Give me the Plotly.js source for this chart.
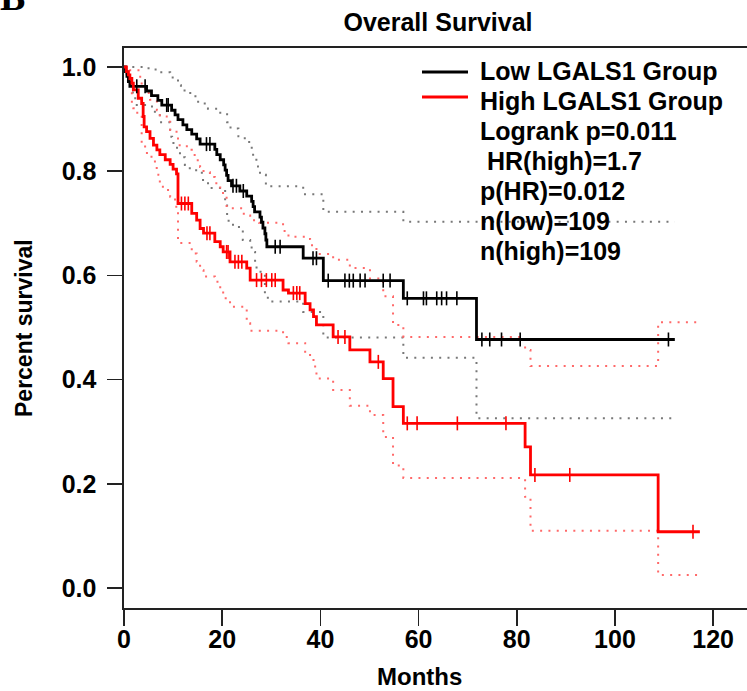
<!DOCTYPE html>
<html>
<head>
<meta charset="utf-8">
<script src="https://cdn.plot.ly/plotly-3.0.1.min.js"></script>
<style>html,body{margin:0;padding:0;background:#fff;}#chart{width:747px;height:691px;}</style>
</head>
<body>
<div id="chart"></div>
<script>
// ---- Low LGALS1 group: Kaplan-Meier steps (months, survival) ----
const lowTimes = [0, 0.3, 0.6, 0.9, 1.2, 4.6, 5.6, 6.9, 7.7, 9.7, 10.4, 11.0, 12.0, 12.8, 13.8, 14.8, 15.5, 18.5, 18.9, 19.6, 20.3, 20.6, 20.9, 21.2, 21.9, 23.6, 25.0, 26.0, 26.3, 26.6, 27.7, 28.0, 28.3, 28.7, 28.9, 29.1, 36.5, 40.6, 56.9, 71.8];
const lowSurv = [1.0, 0.991, 0.982, 0.972, 0.963, 0.954, 0.945, 0.936, 0.927, 0.917, 0.908, 0.899, 0.889, 0.880, 0.871, 0.862, 0.852, 0.842, 0.832, 0.822, 0.812, 0.802, 0.792, 0.782, 0.772, 0.762, 0.752, 0.742, 0.732, 0.722, 0.712, 0.702, 0.691, 0.680, 0.668, 0.655, 0.633, 0.590, 0.556, 0.477];
const lowEnd = 112.2;
const lowCensor = [2.6, 4.3, 8.7, 9.0, 16.8, 17.5, 22.2, 22.9, 24.3, 30.8, 31.8, 38.5, 39.2, 41.6, 45.0, 45.9, 46.7, 48.1, 49.1, 52.8, 54.2, 57.7, 61.0, 61.6, 63.7, 64.7, 65.7, 67.8, 72.9, 74.5, 76.9, 80.7, 110.9];
const lowUpperTimes = [0, 5.0, 7.3, 9.4, 11.0, 11.6, 12.8, 13.8, 15.1, 17.1, 19.1, 21.0, 21.7, 23.3, 24.6, 25.8, 26.3, 27.3, 27.7, 28.9, 36.5, 40.6, 56.9];
const lowUpperSurv = [1.0, 0.995, 0.99, 0.98, 0.965, 0.955, 0.95, 0.944, 0.93, 0.92, 0.912, 0.894, 0.882, 0.867, 0.856, 0.845, 0.822, 0.809, 0.793, 0.771, 0.756, 0.722, 0.703];
const lowLowerTimes = [0, 0.8, 1.8, 2.6, 5.7, 7.3, 9.4, 9.8, 10.8, 11.4, 12.4, 13.4, 15.5, 16.1, 17.5, 20.6, 21.0, 22.2, 24.2, 25.7, 26.0, 26.7, 27.0, 28.7, 29.3, 36.5, 40.6, 56.9, 71.8];
const lowLowerSurv = [1.0, 0.969, 0.94, 0.927, 0.914, 0.894, 0.866, 0.854, 0.841, 0.827, 0.812, 0.802, 0.797, 0.777, 0.768, 0.74, 0.705, 0.693, 0.668, 0.66, 0.645, 0.624, 0.607, 0.562, 0.55, 0.53, 0.481, 0.442, 0.326];

// ---- High LGALS1 group ----
const highTimes = [0, 0.5, 0.9, 1.2, 1.6, 1.9, 2.9, 3.6, 3.9, 4.1, 4.6, 5.3, 6.0, 6.7, 7.3, 8.4, 9.4, 10.0, 10.7, 11.0, 13.8, 14.8, 15.5, 16.2, 18.5, 19.6, 20.2, 21.6, 25.0, 25.7, 32.4, 33.5, 36.9, 37.9, 38.6, 39.2, 42.6, 46.0, 50.1, 52.8, 54.8, 56.9, 81.7, 82.8, 108.8];
const highSurv = [1.0, 0.991, 0.985, 0.978, 0.969, 0.956, 0.94, 0.93, 0.905, 0.885, 0.876, 0.863, 0.85, 0.841, 0.832, 0.822, 0.813, 0.804, 0.795, 0.738, 0.719, 0.706, 0.69, 0.681, 0.665, 0.655, 0.645, 0.626, 0.614, 0.591, 0.572, 0.566, 0.546, 0.534, 0.521, 0.505, 0.482, 0.457, 0.434, 0.402, 0.348, 0.316, 0.271, 0.217, 0.108];
const highEnd = 117.3;
const highCensor = [11.7, 12.4, 13.1, 16.9, 17.5, 20.9, 21.2, 22.6, 23.3, 24.0, 27.0, 28.0, 29.0, 30.1, 30.8, 34.5, 35.2, 35.8, 43.6, 45.0, 51.8, 57.7, 59.7, 67.9, 77.8, 83.7, 90.8, 115.9];
const highUpperTimes = [0, 1.2, 3.3, 3.6, 4.3, 5.3, 6.7, 7.3, 8.7, 9.4, 10.7, 11.0, 12.8, 13.8, 14.8, 15.5, 16.2, 17.5, 18.5, 19.6, 20.9, 24.4, 25.7, 27.5, 32.4, 33.5, 36.9, 37.9, 39.2, 42.6, 46.0, 50.1, 52.8, 54.8, 56.9, 81.7, 82.8, 108.8];
const highUpperSurv = [1.0, 0.994, 0.978, 0.965, 0.95, 0.937, 0.917, 0.905, 0.895, 0.879, 0.869, 0.85, 0.841, 0.831, 0.821, 0.808, 0.798, 0.789, 0.777, 0.758, 0.729, 0.715, 0.706, 0.701, 0.685, 0.674, 0.67, 0.658, 0.641, 0.63, 0.614, 0.594, 0.56, 0.505, 0.482, 0.457, 0.426, 0.51];
const highLowerTimes = [0, 0.5, 1.6, 1.9, 2.2, 3.6, 4.3, 5.6, 6.3, 7.0, 7.3, 8.7, 9.4, 10.4, 11.0, 13.8, 14.8, 15.5, 16.2, 18.5, 19.6, 20.2, 21.6, 25.0, 25.7, 32.4, 33.5, 36.9, 37.9, 38.6, 39.2, 42.6, 46.0, 50.1, 52.8, 54.8, 56.9, 81.7, 82.8, 108.8];
const highLowerSurv = [1.0, 0.975, 0.93, 0.921, 0.912, 0.85, 0.835, 0.821, 0.806, 0.793, 0.77, 0.764, 0.751, 0.732, 0.662, 0.642, 0.626, 0.61, 0.598, 0.588, 0.575, 0.556, 0.54, 0.508, 0.494, 0.482, 0.47, 0.451, 0.441, 0.425, 0.402, 0.38, 0.35, 0.332, 0.29, 0.235, 0.211, 0.175, 0.11, 0.025];

// ---- texts ----
const groupLabels = ["Low LGALS1 Group", "High LGALS1 Group"];
const statLines = ["Logrank p=0.011", " HR(high)=1.7", "p(HR)=0.012", "n(low)=109", "n(high)=109"];
const xTicks = [0, 20, 40, 60, 80, 100, 120];
const yTicks = [0.0, 0.2, 0.4, 0.6, 0.8, 1.0];

const FONT = "Liberation Sans, Arial, sans-serif";
const BLACK = "#000000", RED = "#ff0000";
const GREYDOT = "rgb(120,120,120)", REDDOT = "rgb(255,105,105)";

function stepAt(ts, ss, t) {
  let v = ss[0];
  for (let i = 0; i < ts.length; i++) { if (ts[i] <= t) v = ss[i]; }
  return v;
}
function stepTrace(ts, ss, tEnd, color, width, dash) {
  return {
    type: "scatter", mode: "lines",
    x: ts.concat([tEnd]), y: ss.concat([ss[ss.length - 1]]),
    line: {shape: "hv", color: color, width: width, dash: dash || "solid"},
    hoverinfo: "skip", showlegend: false
  };
}
function censorTrace(ts, ss, cens, color) {
  return {
    type: "scatter", mode: "markers",
    x: cens, y: cens.map(t => stepAt(ts, ss, t)),
    marker: {symbol: "line-ns-open", size: 10, color: color, line: {color: color, width: 1.6}},
    hoverinfo: "skip", showlegend: false
  };
}

const dotDash = "2px,6.3px";
const traces = [
  stepTrace(lowUpperTimes, lowUpperSurv, lowEnd, GREYDOT, 2, dotDash),
  stepTrace(lowLowerTimes, lowLowerSurv, lowEnd, GREYDOT, 2, dotDash),
  stepTrace(highUpperTimes, highUpperSurv, highEnd, REDDOT, 2, dotDash),
  stepTrace(highLowerTimes, highLowerSurv, highEnd, REDDOT, 2, dotDash),
  stepTrace(lowTimes, lowSurv, lowEnd, BLACK, 2.8),
  stepTrace(highTimes, highSurv, highEnd, RED, 2.8),
  censorTrace(lowTimes, lowSurv, lowCensor, BLACK),
  censorTrace(highTimes, highSurv, highCensor, RED)
];

// pixel -> paper helpers for text placement (plot area 124..747 x 48..608)
const L = 124, T = 48, W = 623, H = 560;
const px = x => (x - L) / W;
const py = y => (T + H - y) / H;

const annotations = [];
const rowsY = [71, 101, 131, 161, 191, 221, 251];
const allLines = groupLabels.concat(statLines);
allLines.forEach((txt, i) => {
  annotations.push({
    xref: "paper", yref: "paper", x: px(478), y: py(rowsY[i]),
    xanchor: "left", yanchor: "middle", showarrow: false,
    text: txt.replace(/^ /, "&nbsp;"),
    font: {family: FONT, size: 25, color: "#000", weight: "bold"}
  });
});
annotations.push({
  xref: "paper", yref: "paper", x: px(419), y: py(676),
  xanchor: "center", yanchor: "middle", showarrow: false,
  text: "Months", font: {family: FONT, size: 24, color: "#000", weight: "bold"}
});
annotations.push({
  xref: "paper", yref: "paper", x: px(24), y: py(328),
  xanchor: "center", yanchor: "middle", showarrow: false, textangle: -90,
  text: "Percent survival", font: {family: FONT, size: 23, color: "#000", weight: "bold"}
});
annotations.push({
  xref: "paper", yref: "paper", x: px(-2), y: py(-3),
  xanchor: "left", yanchor: "middle", showarrow: false,
  text: "B", font: {family: "Liberation Serif, Times New Roman, serif", size: 38, color: "#000", weight: "bold"}
});

const shapes = [
  {type: "line", xref: "paper", yref: "paper", x0: px(422), x1: px(468), y0: py(72), y1: py(72), line: {color: BLACK, width: 2.8}},
  {type: "line", xref: "paper", yref: "paper", x0: px(422), x1: px(468), y0: py(97), y1: py(97), line: {color: RED, width: 2.8}}
];

const layout = {
  width: 747, height: 691,
  margin: {l: L, r: 0, t: T, b: 691 - T - H, pad: 0},
  paper_bgcolor: "#fff", plot_bgcolor: "#fff",
  showlegend: false,
  title: {text: "Overall Survival", x: px(438), xref: "paper", y: 1 - 22 / 691, yref: "container",
          xanchor: "center", yanchor: "middle",
          font: {family: FONT, size: 25, color: "#000", weight: "bold"}},
  xaxis: {range: [0, 126.9], tickvals: xTicks, ticktext: xTicks.map(String),
          showgrid: false, zeroline: false, showline: true, mirror: true,
          linecolor: "#222", linewidth: 1.6, ticks: "outside", ticklen: 16, tickwidth: 1.6, tickcolor: "#222",
          ticklabelstandoff: -8,
          tickfont: {family: FONT, size: 25, color: "#000", weight: "bold"}},
  yaxis: {range: [-0.0384, 1.0365], tickvals: yTicks, ticktext: yTicks.map(v => v.toFixed(1)),
          showgrid: false, zeroline: false, showline: true, mirror: false,
          linecolor: "#222", linewidth: 1.6, ticks: "outside", ticklen: 15, tickwidth: 1.6, tickcolor: "#222",
          ticklabelstandoff: 6,
          tickfont: {family: FONT, size: 25, color: "#000", weight: "bold"}},
  annotations: annotations,
  shapes: shapes
};

Plotly.newPlot("chart", traces, layout, {staticPlot: true, displayModeBar: false});
</script>
</body>
</html>
